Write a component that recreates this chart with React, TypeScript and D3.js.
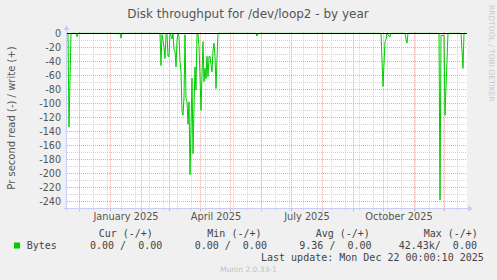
import React from "react";
import * as d3 from "d3";

// ---- data ----
const START = new Date(2024, 10, 19);
const END = new Date(2025, 11, 24);
const readDay = [0, 1, 2, 4, 9, 10, 11, 53, 54, 55,
  92, 93, 94, 95, 96, 97, 98, 99, 100, 101, 102, 103, 104, 105, 106, 107, 108, 109, 110, 111, 112, 113, 114, 115, 116, 117, 118, 119, 120, 121, 122, 123, 124, 125, 126, 127, 128, 129, 130, 131, 132, 133, 134, 135, 136, 137, 138, 139, 140, 141, 142, 143, 144, 145, 146, 147, 148, 149, 150, 151,
  189, 190, 191, 314, 316, 318, 319, 320, 322, 323, 324, 338, 339, 340, 341,
  372, 373, 374, 377, 378, 381, 394, 396, 397, 399];
const readVal = [0, 0, -134, 0, 0, -5, 0, 0, -7, 0,
  0, 0, -46, -2, -10, -20, -36, -2, 0, -33, -33, 0, -3, -8, 0, -24, -25, -48, -10, 0, -5, -40, -55, -112, -117, -92, -2, -93, -98, -130, -98, -202, -133, -64, -172, -107, -48, -81, 0, 0, -20, -60, -110, -60, -12, -69, -50, -65, -33, -62, -33, -33, -45, -55, -24, -14, -33, -79, -36, 0,
  0, -4, 0, 0, -76, -12, -9, 0, -4, -5, 0, 0, -8, -14, 0,
  0, -238, -3, -3, -117, 0, 0, -50, 0, 0];
const yTicks = [0, -20, -40, -60, -80, -100, -120, -140, -160, -180, -200, -220, -240];
const yMinor = [-10, -30, -50, -70, -90, -110, -130, -150, -170, -190, -210, -230, -250];
const monthLabels = [new Date(2025, 0, 1), new Date(2025, 3, 1), new Date(2025, 6, 1), new Date(2025, 9, 1)];
const legendHeads = ["Cur (-/+)", "Min (-/+)", "Avg (-/+)", "Max (-/+)"];
const legendVals = ["0.00 /  0.00", "0.00 /  0.00", "9.36 /  0.00", "42.43k/  0.00"];

const W = 497, H = 280;
const L = 67, R = 467, T = 33.3, B = 208.3;

export default function App() {
  const x = d3.scaleTime().domain([START, END]).range([L, R]);
  const y = d3.scaleLinear().domain([-250, 0]).range([B, T]);
  const pts: [number, number][] = readDay.map((d, i) => [x(d3.timeDay.offset(START, d)), y(readVal[i])]);
  const line = d3.line<[number, number]>().x(p => p[0]).y(p => p[1]);
  const months = d3.timeMonth.range(d3.timeMonth.ceil(START), END);
  const minors = d3.timeDay.range(new Date(2024, 11, 1), END, 14);
  const px = (v: number) => Math.round(v) + 0.5;
  const py = (v: number) => Math.floor(v) + 0.5;
  const headX = [98.7, 207.3, 315.7, 423.7];
  const valX = [90, 194.7, 299.3, 398.7];
  const font = "DejaVu Sans, sans-serif";
  const mono = "DejaVu Sans Mono, monospace";
  return (
    <svg width={W} height={H} style={{ display: "block", position: "absolute", left: 0, top: 0 }}>
      <rect x={0} y={0} width={W} height={H} fill="#f0f0f0" />
      <rect x={L} y={32} width={R - L} height={B - 32} fill="#ffffff" />
      <text x={248} y={18} textAnchor="middle" fontFamily={font} fontSize={12} fill="#555">Disk throughput for /dev/loop2 - by year</text>
      <text transform={`translate(489,5) rotate(90)`} fontFamily={font} fontSize={7.5} fill="#c8c8c8">RRDTOOL / TOBI OETIKER</text>
      <text transform={`translate(15,118) rotate(-90)`} textAnchor="middle" fontFamily={font} fontSize={10} fill="#555">Pr second read (-) / write (+)</text>
      {/* minor grid */}
      {minors.map((m, i) => (
        <line key={"vm" + i} x1={px(x(m))} x2={px(x(m))} y1={T - 1} y2={B} stroke="#d4d4d4" strokeDasharray="1,1" />
      ))}
      {yMinor.map((v, i) => (
        <line key={"hm" + i} x1={L} x2={R} y1={py(y(v))} y2={py(y(v))} stroke="#d4d4d4" strokeDasharray="1,1" />
      ))}
      {/* major grid */}
      {months.map((m, i) => (
        <line key={"vM" + i} x1={px(x(m))} x2={px(x(m))} y1={T - 1} y2={B} stroke="#eaa5a5" strokeDasharray="1,1" />
      ))}
      {yTicks.map((v, i) => (
        <line key={"hM" + i} x1={L} x2={R} y1={py(y(v))} y2={py(y(v))} stroke="#eaa5a5" strokeDasharray="1,1" />
      ))}
      {yTicks.map((v, i) => (
        <text key={"yl" + i} x={61} y={y(v) + 3.5} textAnchor="end" fontFamily={font} fontSize={9.6} fill="#555">{v}</text>
      ))}
      {months.map((m, i) => (
        <line key={"xt" + i} x1={px(x(m))} x2={px(x(m))} y1={B} y2={B + 3} stroke="#eaa5a5" />
      ))}
      {minors.map((m, i) => (
        <line key={"xtm" + i} x1={px(x(m))} x2={px(x(m))} y1={B} y2={B + 2} stroke="#d4d4d4" />
      ))}
      {monthLabels.map((m, i) => (
        <text key={"xl" + i} x={x(d3.timeDay.offset(m, 16))} y={220} textAnchor="middle" fontFamily={font} fontSize={9.8} fill="#555">{d3.timeFormat("%B %Y")(m)}</text>
      ))}
      {/* data */}
      <path d={line(pts) || ""} fill="none" stroke="#00cc00" strokeWidth={1} />
      <line x1={L} x2={R} y1={py(y(0))} y2={py(y(0))} stroke="#000" strokeWidth={1} />
      {/* axes */}
      <line x1={64} x2={469} y1={py(B)} y2={py(B)} stroke="#c8cdf5" />
      <path d={`M${473},${py(B)} L${468},${py(B) - 3} L${468},${py(B) + 3} Z`} fill="#c8cdf5" />
      <line x1={px(L) - 1} x2={px(L) - 1} y1={B + 3} y2={29} stroke="#c8cdf5" />
      <path d={`M${px(L) - 1},25 L${px(L) - 4},30 L${px(L) + 2},30 Z`} fill="#c8cdf5" />
      {/* legend */}
      {legendHeads.map((h, i) => (
        <text key={"lh" + i} x={headX[i]} y={236.5} fontFamily={mono} fontSize={10} fill="#444" xmlSpace="preserve" style={{ whiteSpace: "pre" }}>{h}</text>
      ))}
      <rect x={14} y={242.5} width={6} height={6} fill="#00cc00" />
      <text x={26.7} y={248.5} fontFamily={mono} fontSize={10} fill="#444">Bytes</text>
      {legendVals.map((v, i) => (
        <text key={"lv" + i} x={valX[i]} y={248.5} fontFamily={mono} fontSize={10} fill="#444" xmlSpace="preserve" style={{ whiteSpace: "pre" }}>{v}</text>
      ))}
      <text x={261} y={260.5} fontFamily={mono} fontSize={10} fill="#444" xmlSpace="preserve" style={{ whiteSpace: "pre" }}>Last update: Mon Dec 22 00:00:10 2025</text>
      <text x={248.5} y={271.5} textAnchor="middle" fontFamily={font} fontSize={7.5} fill="#c0c0c0">Munin 2.0.33-1</text>
    </svg>
  );
}
